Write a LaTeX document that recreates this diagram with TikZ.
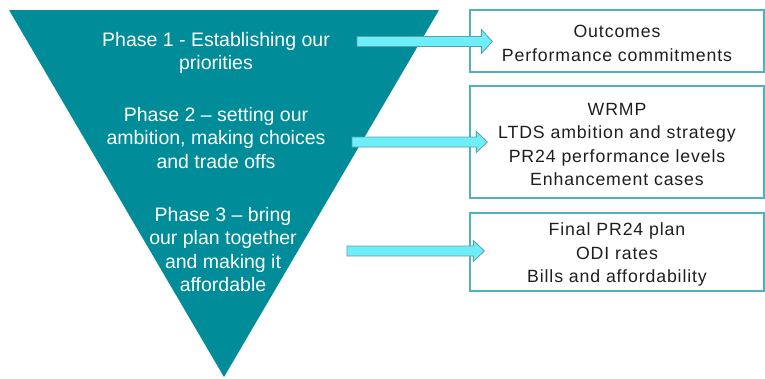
\documentclass[tikz,border=0pt]{standalone}
\usepackage{fontspec}
\setmainfont{Liberation Sans}
\newfontfamily\boxfont[LetterSpace=5]{Liberation Sans}
\usetikzlibrary{calc}
\definecolor{tealfill}{HTML}{008C98}
\definecolor{boxline}{HTML}{4FB3BE}
\definecolor{arrfill}{HTML}{6EEEF8}
\definecolor{arrline}{HTML}{5E9EA6}
\definecolor{txtdark}{HTML}{1E1E1E}
\tikzset{
  phasetext/.style={text=white, align=center, inner sep=0pt, font=\fontsize{19.5}{23.5}\selectfont},
  outbox/.style={draw=boxline, line width=1.3pt, minimum width=294pt, inner sep=0pt, text=txtdark, align=center, font=\boxfont\fontsize{17.7}{23.5}\selectfont},
  boxtext/.style={text=txtdark, align=center, inner sep=0pt, font=\boxfont\fontsize{17.7}{23.5}\selectfont},
  fatarrow/.style={fill=arrfill, draw=arrline, line width=0.8pt, line join=miter}
}
\newcommand{\fatarr}[5]{% start, tip, shaft half, head half, head length
  \path[fatarrow] ($(#1)+(0,-#3)$) -- ($(#2)+(-#5,-#3)$) -- ($(#2)+(-#5,-#4)$) -- (#2)
    -- ($(#2)+(-#5,#4)$) -- ($(#2)+(-#5,#3)$) -- ($(#1)+(0,#3)$) -- cycle;}
\begin{document}
\begin{tikzpicture}[x=1pt,y=-1pt]
\useasboundingbox (0,0) rectangle (765,378);
% triangle
\fill[tealfill] (9,10) -- (439,10) -- (224,377) -- cycle;
% phase texts
\node[phasetext] (p1) at (216,53) {Phase 1 - Establishing our\\priorities};
\node[phasetext] (p2) at (216,138) {Phase 2 – setting our\\ambition, making choices\\and trade offs};
\node[phasetext] (p3) at (223,249.5) {Phase 3 – bring\\our plan together\\and making it\\affordable};
% boxes
\node[outbox, minimum height=62pt] (b1) at (617,41) {};
\node[boxtext] (t1) at (617,43.5) {Outcomes\\Performance commitments};
\node[outbox, minimum height=112pt] (b2) at (617,142) {};
\node[boxtext] (t2) at (617,144.5) {WRMP\\LTDS ambition and strategy\\PR24 performance levels\\Enhancement cases};
\node[outbox, minimum height=78pt] (b3) at (617,252) {};
\node[boxtext] (t3) at (617,254.5) {Final PR24 plan\\ODI rates\\Bills and affordability};
% arrows
\coordinate (a1s) at (357,41.5);
\coordinate (a1e) at ($(b1.west)+(23,0.5)$);
\coordinate (a2s) at (352,142);
\coordinate (a2e) at ($(b2.west)+(18,0)$);
\coordinate (a3s) at (347,251);
\coordinate (a3e) at ($(b3.west)+(15,-1)$);
\fatarr{a1s}{a1e}{5}{12}{11}
\fatarr{a2s}{a2e}{5}{10.5}{11}
\fatarr{a3s}{a3e}{5}{10.5}{11}
\end{tikzpicture}
\end{document}
